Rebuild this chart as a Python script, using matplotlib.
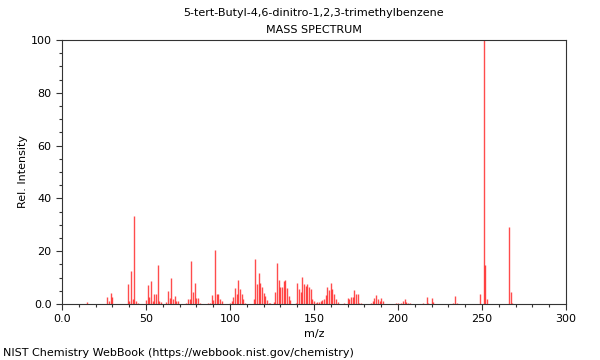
import matplotlib
matplotlib.use("Agg")
import matplotlib.pyplot as plt
from matplotlib.ticker import MultipleLocator, FixedLocator

title_name = "5-tert-Butyl-4,6-dinitro-1,2,3-trimethylbenzene"
title_sub = "MASS SPECTRUM"
x_label = "m/z"
y_label = "Rel. Intensity"
credit = "NIST Chemistry WebBook (https://webbook.nist.gov/chemistry)"

mz = [15, 27, 28, 29, 30, 39, 40, 41, 42, 43, 44, 45,
      50, 51, 52, 53, 54, 55, 56, 57, 58, 59, 62, 63, 64, 65, 66, 67, 68, 69,
      74, 75, 76, 77, 78, 79, 80, 81, 82, 87, 88, 89, 90, 91, 92, 93, 94, 95,
      100, 101, 102, 103, 104, 105, 106, 107, 108, 109,
      114, 115, 116, 117, 118, 119, 120, 121, 122, 123, 124, 126,
      127, 128, 129, 130, 131, 132, 133, 134, 135, 136, 139,
      140, 141, 142, 143, 144, 145, 146, 147, 148, 149, 150, 151, 152, 153, 154, 155,
      156, 157, 158, 159, 160, 161, 162, 163, 164, 168,
      170, 171, 172, 173, 174, 175, 176, 177, 178,
      184, 185, 186, 187, 188, 189, 190, 191,
      199, 200, 202, 203, 204, 205, 206, 207,
      215, 217, 218, 220, 221, 233, 234, 235,
      249, 251, 252, 253, 266, 267, 268]
intensity = [0.8, 2.8, 1.0, 4.0, 2.8, 7.6, 1.0, 12.5, 1.8, 33.3, 1.0, 0.5,
             1.5, 7.2, 2.8, 8.7, 1.3, 3.9, 3.7, 14.8, 1.1, 0.8, 0.6, 4.9, 2.4, 10.0, 1.9, 3.0, 1.3, 1.0,
             0.5, 1.9, 1.9, 16.3, 4.7, 8.0, 2.2, 2.2, 0.5, 0.5, 0.5, 3.4, 1.5, 20.5, 3.7, 3.7, 1.8, 1.0,
             0.5, 1.0, 2.8, 6.2, 3.7, 9.2, 5.6, 3.7, 1.8, 0.5,
             1.8, 16.9, 7.6, 11.6, 7.8, 6.6, 4.0, 3.0, 1.5, 0.5, 0.5, 0.7,
             4.7, 15.7, 9.1, 6.6, 6.6, 8.7, 9.1, 6.2, 3.0, 1.5, 0.5,
             7.8, 5.8, 4.5, 10.3, 7.6, 6.8, 7.4, 6.4, 5.5, 1.9, 1.0, 0.5, 0.6, 0.8, 1.0, 1.5,
             2.0, 3.4, 6.3, 5.3, 7.9, 5.7, 3.8, 1.8, 0.8, 0.5,
             2.3, 1.9, 2.7, 2.7, 5.3, 3.8, 3.8, 0.5, 0.5,
             0.5, 1.0, 2.1, 3.4, 2.0, 1.0, 2.1, 1.0,
             0.5, 0.5, 0.5, 1.0, 1.9, 0.8, 0.5, 0.3,
             0.5, 2.8, 0.5, 2.3, 0.7, 0.5, 2.9, 0.5,
             3.8, 100.0, 14.8, 1.9, 29.2, 4.5, 0.5]

x_ticks = [0, 50, 100, 150, 200, 250, 300]
x_tick_labels = ["0.0", "50", "100", "150", "200", "250", "300"]
y_ticks = [0, 20, 40, 60, 80, 100]
y_tick_labels = ["0.0", "20", "40", "60", "80", "100"]

fig = plt.figure(figsize=(6, 3.6), dpi=100)
ax = fig.add_axes([62/600, 56/360, 504/600, 264/360])

ax.vlines(mz, 0, intensity, colors="#ff0000", linewidth=1.0, alpha=0.7)

ax.set_xlim(0, 300)
ax.set_ylim(0, 100)
ax.xaxis.set_major_locator(FixedLocator(x_ticks))
ax.set_xticklabels(x_tick_labels)
ax.xaxis.set_minor_locator(MultipleLocator(10))
ax.yaxis.set_major_locator(FixedLocator(y_ticks))
ax.set_yticklabels(y_tick_labels)
ax.yaxis.set_minor_locator(MultipleLocator(5))

ax.tick_params(axis="both", which="major", labelsize=8, length=4, width=0.8, color="#333333")
ax.tick_params(axis="both", which="minor", length=2.5, width=0.8, color="#333333")
for s in ax.spines.values():
    s.set_linewidth(0.8)
    s.set_color("#333333")

ax.set_xlabel(x_label, fontsize=8, labelpad=3)
ax.set_ylabel(y_label, fontsize=8, labelpad=2)

fig.text(314/600, 1 - 13/360, title_name, ha="center", va="center", fontsize=8)
fig.text(314/600, 1 - 30/360, title_sub, ha="center", va="center", fontsize=8)
fig.text(3/600, 1 - 353/360, credit, ha="left", va="center", fontsize=8)

fig.savefig("out.png", dpi=100)
